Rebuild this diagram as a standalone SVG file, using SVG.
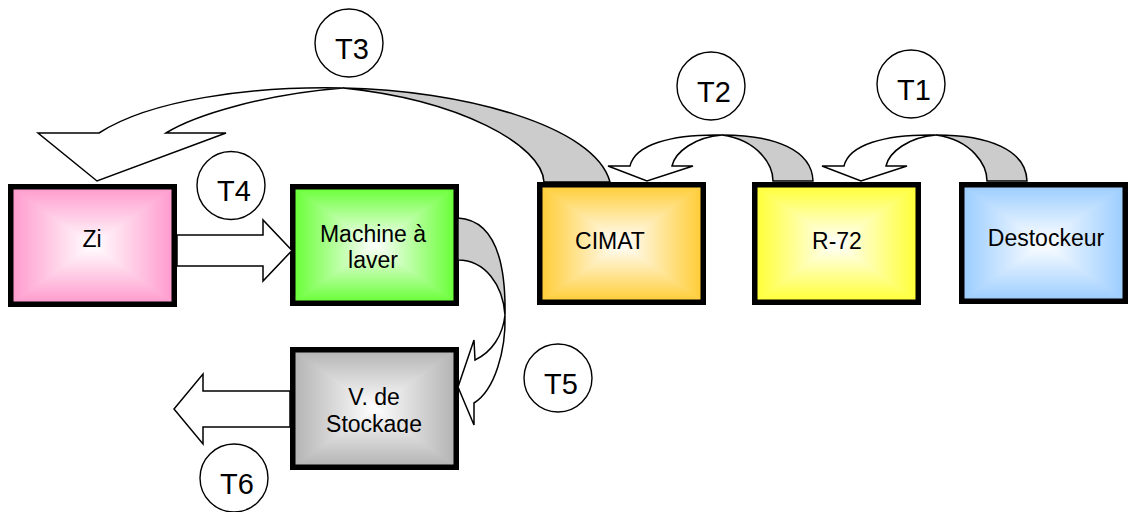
<svg xmlns="http://www.w3.org/2000/svg" width="1130" height="512" viewBox="0 0 1130 512">
<style>
.box{fill:none;stroke:#000;stroke-width:5.5}
.lbl{font-family:"Liberation Sans",Arial,sans-serif;font-size:23px;fill:#000;text-anchor:middle}
.tl{font-family:"Liberation Sans",Arial,sans-serif;font-size:29px;fill:#000;text-anchor:middle}
.tc{fill:#fff;stroke:#000;stroke-width:1.4}
.front{fill:#fff;stroke:#000;stroke-width:1.5;stroke-linejoin:miter}
.back{fill:#ccc;stroke:#000;stroke-width:1.5;stroke-linejoin:miter}
</style>
<defs>
<linearGradient id="zi-h" x1="0" y1="0" x2="1" y2="0"><stop offset="0" stop-color="#FF99CC"/><stop offset="0.5" stop-color="#FFFFFF"/><stop offset="1" stop-color="#FF99CC"/></linearGradient>
<linearGradient id="zi-v" x1="0" y1="0" x2="0" y2="1"><stop offset="0" stop-color="#FF99CC"/><stop offset="0.5" stop-color="#FFFFFF"/><stop offset="1" stop-color="#FF99CC"/></linearGradient>
<linearGradient id="ma-h" x1="0" y1="0" x2="1" y2="0"><stop offset="0" stop-color="#66FF33"/><stop offset="0.5" stop-color="#FFFFFF"/><stop offset="1" stop-color="#66FF33"/></linearGradient>
<linearGradient id="ma-v" x1="0" y1="0" x2="0" y2="1"><stop offset="0" stop-color="#66FF33"/><stop offset="0.5" stop-color="#FFFFFF"/><stop offset="1" stop-color="#66FF33"/></linearGradient>
<linearGradient id="st-h" x1="0" y1="0" x2="1" y2="0"><stop offset="0" stop-color="#B2B2B2"/><stop offset="0.5" stop-color="#FFFFFF"/><stop offset="1" stop-color="#B2B2B2"/></linearGradient>
<linearGradient id="st-v" x1="0" y1="0" x2="0" y2="1"><stop offset="0" stop-color="#B2B2B2"/><stop offset="0.5" stop-color="#FFFFFF"/><stop offset="1" stop-color="#B2B2B2"/></linearGradient>
<linearGradient id="ci-h" x1="0" y1="0" x2="1" y2="0"><stop offset="0" stop-color="#FFCC33"/><stop offset="0.5" stop-color="#FFFFFF"/><stop offset="1" stop-color="#FFCC33"/></linearGradient>
<linearGradient id="ci-v" x1="0" y1="0" x2="0" y2="1"><stop offset="0" stop-color="#FFCC33"/><stop offset="0.5" stop-color="#FFFFFF"/><stop offset="1" stop-color="#FFCC33"/></linearGradient>
<linearGradient id="r7-h" x1="0" y1="0" x2="1" y2="0"><stop offset="0" stop-color="#FFFF33"/><stop offset="0.5" stop-color="#FFFFFF"/><stop offset="1" stop-color="#FFFF33"/></linearGradient>
<linearGradient id="r7-v" x1="0" y1="0" x2="0" y2="1"><stop offset="0" stop-color="#FFFF33"/><stop offset="0.5" stop-color="#FFFFFF"/><stop offset="1" stop-color="#FFFF33"/></linearGradient>
<linearGradient id="de-h" x1="0" y1="0" x2="1" y2="0"><stop offset="0" stop-color="#99CCFF"/><stop offset="0.5" stop-color="#FFFFFF"/><stop offset="1" stop-color="#99CCFF"/></linearGradient>
<linearGradient id="de-v" x1="0" y1="0" x2="0" y2="1"><stop offset="0" stop-color="#99CCFF"/><stop offset="0.5" stop-color="#FFFFFF"/><stop offset="1" stop-color="#99CCFF"/></linearGradient>
<clipPath id="stclip"><rect x="290" y="347" width="169" height="86"/></clipPath>
</defs>

<g id="node-zi">
<rect x="10.75" y="186.75" width="163.5" height="117.5" fill="url(#zi-h)"/>
<path d="M10.75,186.75 L174.25,186.75 L92.5,245.5 Z M10.75,304.25 L174.25,304.25 L92.5,245.5 Z" fill="url(#zi-v)"/>
<rect class="box" x="10.75" y="186.75" width="163.5" height="117.5"/>
<text class="lbl" x="92" y="247">Zi</text>
</g>

<g id="node-machine">
<rect x="292.75" y="186.75" width="163.5" height="116.5" fill="url(#ma-h)"/>
<path d="M292.75,186.75 L456.25,186.75 L374.5,245 Z M292.75,303.25 L456.25,303.25 L374.5,245 Z" fill="url(#ma-v)"/>
<rect class="box" x="292.75" y="186.75" width="163.5" height="116.5"/>
<text class="lbl" x="373" y="242">Machine à</text>
<text class="lbl" x="373" y="268">laver</text>
</g>

<g id="node-stockage">
<rect x="292.75" y="349.75" width="163.5" height="117.5" fill="url(#st-h)"/>
<path d="M292.75,349.75 L456.25,349.75 L374.5,408.5 Z M292.75,467.25 L456.25,467.25 L374.5,408.5 Z" fill="url(#st-v)"/>
<rect class="box" x="292.75" y="349.75" width="163.5" height="117.5"/>
<text class="lbl" x="374" y="405">V. de</text>
<text class="lbl" x="374" y="432" clip-path="url(#stclip)">Stockage</text>
</g>

<g id="node-cimat">
<rect x="539.75" y="184.75" width="163.5" height="117.5" fill="url(#ci-h)"/>
<path d="M539.75,184.75 L703.25,184.75 L621.5,243.5 Z M539.75,302.25 L703.25,302.25 L621.5,243.5 Z" fill="url(#ci-v)"/>
<rect class="box" x="539.75" y="184.75" width="163.5" height="117.5"/>
<text class="lbl" x="610" y="249">CIMAT</text>
</g>

<g id="node-r72">
<rect x="754.75" y="184.75" width="163.5" height="117.5" fill="url(#r7-h)"/>
<path d="M754.75,184.75 L918.25,184.75 L836.5,243.5 Z M754.75,302.25 L918.25,302.25 L836.5,243.5 Z" fill="url(#r7-v)"/>
<rect class="box" x="754.75" y="184.75" width="163.5" height="117.5"/>
<text class="lbl" x="837" y="249">R-72</text>
</g>

<g id="node-destockeur">
<rect x="961.75" y="184.75" width="163.5" height="116.5" fill="url(#de-h)"/>
<path d="M961.75,184.75 L1125.25,184.75 L1043.5,243 Z M961.75,301.25 L1125.25,301.25 L1043.5,243 Z" fill="url(#de-v)"/>
<rect class="box" x="961.75" y="184.75" width="163.5" height="116.5"/>
<text class="lbl" x="1046" y="246">Destockeur</text>
</g>

<g id="connectors">
<g id="t1">
<path class="back" d="M936,135 C989,135 1026,150 1027,181 L987,181 C987,165 972,140 936,135 Z"/>
<path class="front" d="M936,135 C884,134 849,145 844,166 L822,166 L861,181 L907,166 L886,166 C889,152 909,137 936,135 Z"/>
<circle class="tc" cx="911" cy="84" r="34"/>
<text class="tl" x="914" y="99.5">T1</text>
</g>
<g id="t2">
<path class="back" d="M722,135 C775,135 812,150 813,181 L773,181 C773,165 758,140 722,135 Z"/>
<path class="front" d="M722,135 C670,134 635,145 630,166 L608,166 L647,181 L693,166 L672,166 C675,152 695,137 722,135 Z"/>
<circle class="tc" cx="711" cy="86" r="34"/>
<text class="tl" x="714" y="101.5">T2</text>
</g>
<g id="t3">
<path class="back" d="M343,88 C460,90 595,125 610,182 L544,182 C542,145 460,100 343,88 Z"/>
<path class="front" d="M343,88 C250,86 150,100 99,133 L38,133 L97,181 L226,133 L166,133 C195,115 265,94 343,88 Z"/>
<circle class="tc" cx="349" cy="43" r="34"/>
<text class="tl" x="352" y="58.5">T3</text>
</g>
<g id="t4">
<path class="front" d="M177,235 L263,235 L263,220 L292,250.5 L263,281 L263,266 L177,266 Z"/>
<circle class="tc" cx="231" cy="185.5" r="34"/>
<text class="tl" x="234" y="201">T4</text>
</g>
<g id="t5">
<path class="back" d="M458,218 C492,220 506,255 505,315 C503,285 485,260 458,260 Z"/>
<path class="front" d="M505,315 C506,350 495,390 474,403 L474,425 L458,387 L474,340 L475,360 C492,352 503,335 505,315 Z"/>
<circle class="tc" cx="558" cy="378" r="34"/>
<text class="tl" x="561" y="393.5">T5</text>
</g>
<g id="t6">
<path class="front" d="M290,391 L203,391 L203,374 L174,409 L203,444 L203,427 L290,427 Z"/>
<circle class="tc" cx="234" cy="478" r="34"/>
<text class="tl" x="237" y="493.5">T6</text>
</g>
</g>
</svg>
